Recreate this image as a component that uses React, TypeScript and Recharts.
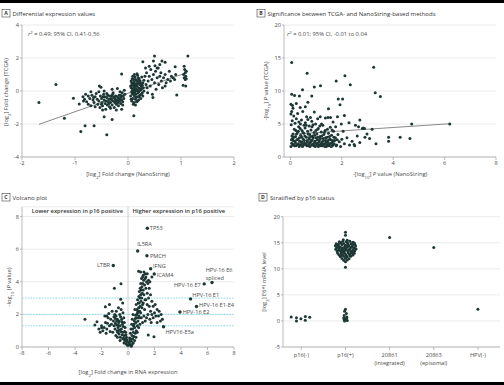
import React from 'react'
import { ScatterChart, Scatter, XAxis, YAxis, CartesianGrid, ReferenceLine } from 'recharts'

const FONT = '"Open Sans", "DejaVu Sans", sans-serif'
const INK = '#1d3735'
const LABEL = '#4a4a4a'
const AXIS = '#a9a9a9'
const GRID = '#e6e6e6'
const CUTOFF = '#7dd8e6'

// A - log2 fold change, NanoString (x) vs TCGA (y)
const foldChange: [number, number][] = [
  [-1.68, -0.7], [-1.36, 0.4], [-1.2, -1.65], [-1.03, -0.44], [-0.92, -0.79], [-0.81, -2.1], [-0.64, -2.1],
  [-0.89, -2.46], [-0.4, -2.65], [-0.3, -1.72], [-0.48, -1.15], [-0.45, -1.56], [0.11, -1.5], [-0.12, 1.03],
  [-0.54, 0.3], [-0.51, 0.22], [0.28, 1.78], [0.5, 2.12], [0.48, 1.82], [0.64, 1.82], [0.7, 1.75], [1.13, 2.12],
  [0.92, -0.24], [1.09, 0.3], [0.89, 1.47], [0.55, 1.4], [0.51, 1.53],
  [-0.85, -0.35], [-0.82, -0.5], [-0.8, -0.2], [-0.78, -0.65], [-0.75, -0.3], [-0.72, -0.45], [-0.7, -0.9],
  [-0.68, -0.25], [-0.66, -0.55], [-0.64, -0.7], [-0.62, -0.35], [-0.6, -0.15], [-0.58, -0.5], [-0.57, -0.8],
  [-0.55, -0.6], [-0.53, -1.0], [-0.52, -0.3], [-0.5, -0.45], [-0.49, -0.7], [-0.48, -0.9], [-0.46, -0.2],
  [-0.45, -0.55], [-0.44, -0.35], [-0.43, -0.75], [-0.42, -1.1], [-0.41, -0.6], [-0.4, -0.4], [-0.39, -0.85],
  [-0.38, -0.25], [-0.37, -0.65], [-0.36, -0.5], [-0.35, -0.95], [-0.34, -0.3], [-0.33, -0.7], [-0.32, -0.45],
  [-0.31, -0.55], [-0.3, -0.85], [-0.29, -0.2], [-0.28, -0.6], [-0.27, -0.4], [-0.26, -1.0], [-0.25, -0.7],
  [-0.24, -0.5], [-0.23, -0.3], [-0.22, -0.8], [-0.21, -0.55], [-0.2, -0.65], [-0.19, -0.4], [-0.18, -0.9],
  [-0.17, -0.25], [-0.16, -0.6], [-0.15, -0.45], [-0.14, -0.75], [-0.13, -0.35], [-0.12, -0.55], [-0.11, -0.1],
  [-0.1, -0.65], [-0.09, -0.3], [-0.08, -0.45], [-0.07, 0.05], [-0.06, -0.2], [-0.12, -1.1], [-0.22, -1.15],
  [-0.33, -1.05], [-0.55, -0.05], [-0.62, -0.95], [-0.3, 0.1], [-0.45, 0.0], [-0.2, 0.15], [-0.15, -0.05],
  [-0.75, -0.8], [-0.7, -0.05], [-0.4, -0.15], [-0.28, -0.1], [-0.36, -0.75], [-0.26, -0.35], [-0.19, -0.7],
  [-0.14, -0.25], [-0.1, -0.85], [-0.17, -0.5], [-0.23, -0.6], [-0.31, -0.3], [-0.47, -0.35], [-0.5, -0.8],
  [-0.65, -0.4], [-0.84, -0.6],
  [0.05, -0.3], [0.06, 0.2], [0.07, -0.6], [0.07, 0.5], [0.08, 0.0], [0.08, -0.15], [0.09, 0.35], [0.09, -0.45],
  [0.1, 0.1], [0.1, 0.7], [0.1, -0.8], [0.11, -0.05], [0.11, 0.25], [0.12, 0.55], [0.12, -0.3], [0.13, 0.0],
  [0.13, 0.85], [0.14, -0.5], [0.14, 0.4], [0.15, 0.15], [0.15, -0.2], [0.16, 0.65], [0.16, -0.65], [0.17, 0.3],
  [0.17, 0.05], [0.18, -0.35], [0.18, 0.95], [0.19, 0.5], [0.19, -0.1], [0.2, 0.2], [0.2, -0.55], [0.21, 0.75],
  [0.21, 0.0], [0.22, 0.4], [0.22, -0.25], [0.23, 0.6], [0.24, 0.1], [0.24, -0.45], [0.25, 0.3], [0.26, 0.85],
  [0.27, -0.1], [0.28, 0.5], [0.29, 0.2], [0.3, 0.65], [0.06, 0.6], [0.07, -0.05], [0.09, 0.9], [0.11, -0.7],
  [0.12, 0.15], [0.14, 0.7], [0.15, -0.4], [0.17, 0.45], [0.18, -0.6], [0.2, 0.55], [0.21, -0.35], [0.23, 0.05],
  [0.25, -0.2], [0.08, 0.4], [0.1, -0.2], [0.13, 0.3], [0.16, 0.05], [0.19, 0.8], [0.22, 0.15], [0.12, 1.0],
  [0.08, 0.75], [0.14, -0.85], [0.05, 0.3], [0.06, -0.5], [0.09, 0.1], [0.11, 0.45], [0.13, -0.1], [0.16, 0.35],
  [0.18, 0.6], [0.2, -0.05], [0.24, 0.45], [0.26, 0.15], [0.28, -0.3], [0.3, 0.0], [0.27, 0.35], [0.17, 1.05],
  [0.32, 0.9], [0.34, 0.4], [0.35, 1.1], [0.36, 0.2], [0.38, 0.6], [0.4, 0.9], [0.42, 0.3], [0.43, 1.3],
  [0.45, 0.7], [0.46, -0.2], [0.48, 1.0], [0.5, 0.5], [0.52, 1.2], [0.53, 0.1], [0.55, 0.8], [0.57, 1.4],
  [0.58, 0.4], [0.6, 0.9], [0.62, 1.1], [0.63, 0.6], [0.65, 0.2], [0.67, 0.8], [0.7, 1.0], [0.72, 0.5],
  [0.75, 0.7], [0.78, 1.2], [0.8, 0.6], [0.82, 0.9], [0.85, 0.8], [0.88, 0.7], [0.9, 1.0], [1.05, 1.0],
  [1.06, 0.8], [1.07, 1.3], [1.08, 0.7], [1.08, 1.1], [1.09, 0.9], [1.1, 0.75], [1.1, 1.2], [1.06, 1.5],
  [1.04, 0.35], [0.4, 1.5], [0.47, -0.4], [0.37, -0.1], [0.33, 1.4], [0.6, 1.6], [0.7, 0.3],
]
const foldChangeFit: [number, number][] = [[-1.68, -2.02], [1.1, 1.1]]

// B - -log10 P value, NanoString (x) vs TCGA (y)
const significance: [number, number][] = [
  [0.02, 1.6], [0.05, 2.1], [0.08, 2.8], [0.1, 3.5], [0.12, 1.9], [0.15, 4.2], [0.17, 2.4], [0.2, 3.1],
  [0.22, 1.7], [0.25, 2.6], [0.27, 3.8], [0.3, 2.0], [0.32, 4.6], [0.35, 2.9], [0.37, 1.8], [0.4, 3.3],
  [0.42, 2.3], [0.45, 4.0], [0.47, 1.6], [0.5, 2.7], [0.52, 3.6], [0.55, 2.1], [0.57, 4.4], [0.6, 1.9],
  [0.62, 3.0], [0.65, 2.5], [0.67, 3.9], [0.7, 1.7], [0.72, 2.9], [0.75, 3.4], [0.77, 2.2], [0.8, 4.1],
  [0.82, 1.8], [0.85, 2.6], [0.87, 3.2], [0.9, 2.0], [0.92, 3.7], [0.95, 2.4], [0.97, 1.6], [1.0, 2.9],
  [1.03, 3.5], [1.05, 2.1], [1.08, 4.3], [1.1, 1.8], [1.13, 2.6], [1.15, 3.1], [1.18, 2.0], [1.2, 3.8],
  [1.23, 2.3], [1.25, 1.7], [1.28, 2.8], [1.3, 3.4], [1.33, 2.0], [1.35, 4.0], [1.38, 2.5], [1.4, 1.6],
  [1.43, 3.0], [1.45, 2.2], [1.48, 3.6], [1.5, 1.9], [1.53, 2.7], [1.55, 4.5], [1.58, 2.1], [1.6, 3.3],
  [1.63, 1.7], [1.65, 2.5], [1.68, 3.9], [1.7, 2.0], [1.75, 2.9], [1.8, 1.8], [1.85, 3.4], [1.9, 2.3],
  [1.95, 1.6], [2.0, 2.7], [2.05, 3.9], [2.1, 2.0], [2.2, 2.9], [2.3, 1.8], [2.4, 2.4], [2.5, 1.7],
  [2.6, 3.2], [2.7, 2.2], [2.8, 4.3], [2.9, 3.0],
  [0.03, 4.9], [0.06, 3.2], [0.09, 1.8], [0.11, 2.5], [0.14, 3.0], [0.16, 1.7], [0.19, 2.2], [0.21, 4.0],
  [0.24, 3.5], [0.26, 1.9], [0.29, 2.7], [0.31, 3.9], [0.34, 1.6], [0.36, 2.4], [0.39, 5.0], [0.41, 1.9],
  [0.44, 3.0], [0.46, 2.2], [0.49, 3.7], [0.51, 1.8], [0.54, 2.5], [0.56, 3.2], [0.59, 2.0], [0.61, 4.8],
  [0.64, 1.7], [0.66, 2.3], [0.69, 3.5], [0.71, 2.0], [0.74, 2.7], [0.76, 1.6], [0.79, 3.1], [0.81, 2.4],
  [0.84, 4.6], [0.86, 1.9], [0.89, 2.9], [0.91, 1.7], [0.94, 3.3], [0.96, 2.2], [0.99, 4.0], [1.02, 1.9],
  [1.04, 2.6], [1.07, 3.0], [1.09, 1.6], [1.12, 2.3], [1.14, 4.7], [1.17, 2.8], [1.19, 1.7], [1.22, 3.2],
  [1.24, 2.1], [1.27, 1.8], [1.29, 2.5], [1.32, 3.7], [1.34, 1.6], [1.37, 2.9], [1.39, 2.2], [1.42, 1.8],
  [1.44, 4.2], [1.47, 2.5], [1.49, 1.7], [1.52, 3.1], [1.54, 2.0], [1.57, 2.6], [1.59, 1.6], [1.62, 4.1],
  [1.64, 2.3], [1.67, 1.9], [1.69, 3.0], [1.72, 2.5], [1.78, 1.7], [1.82, 2.6],
  [0.04, 2.6], [0.07, 5.5], [0.13, 6.2], [0.18, 5.1], [0.23, 5.8], [0.28, 6.6], [0.33, 5.3], [0.38, 4.3],
  [0.43, 5.6], [0.48, 6.9], [0.53, 4.8], [0.58, 5.2], [0.63, 6.1], [0.68, 5.7], [0.73, 4.7], [0.78, 6.0],
  [0.83, 5.4], [0.88, 4.9], [0.93, 6.8], [0.98, 5.0], [1.06, 5.8], [1.16, 6.1], [1.26, 4.8], [1.36, 5.9],
  [1.46, 6.0], [1.56, 6.0], [1.66, 5.3], [1.76, 4.6], [1.06, 4.2], [1.21, 5.0], [0.02, 6.5], [0.05, 6.9],
  [0.08, 7.8], [0.1, 7.4], [0.02, 8.0],
  [0.05, 14.3], [0.65, 12.7], [1.78, 11.5], [2.12, 12.3], [3.24, 13.6], [1.17, 10.8], [0.93, 10.6],
  [0.47, 10.2], [2.33, 10.95], [3.3, 9.75], [3.5, 9.15], [0.05, 9.5], [0.16, 9.3], [0.35, 9.25], [0.83, 9.25],
  [0.68, 8.3], [0.58, 7.6], [0.38, 7.5], [0.23, 8.1], [1.86, 8.8], [2.03, 8.8], [1.93, 7.9], [2.1, 6.3],
  [2.7, 5.6], [2.65, 4.6], [2.83, 4.4], [3.33, 2.0], [3.82, 3.0], [3.82, 2.4], [4.27, 3.0], [4.65, 2.8],
  [4.72, 5.0], [6.2, 5.0], [2.98, 3.5], [3.08, 2.8], [1.98, 5.0], [2.28, 5.2], [2.48, 1.9], [3.18, 4.2],
  [2.88, 4.3], [2.53, 4.8], [1.83, 6.1], [1.48, 7.3],
]
const significanceFit: [number, number][] = [[0.05, 3.45], [6.25, 5.05]]

// C - volcano, log2 fold change (x) vs -log10 P value (y)
const volcano: [number, number][] = [
  [-0.05, 0.1], [-0.1, 0.3], [-0.15, 0.2], [-0.2, 0.5], [-0.25, 0.4], [-0.3, 0.7], [-0.35, 0.55], [-0.4, 0.9],
  [-0.45, 0.75], [-0.5, 1.1], [-0.55, 0.95], [-0.6, 1.3], [-0.65, 1.05], [-0.7, 1.5], [-0.75, 1.2], [-0.8, 1.7],
  [-0.85, 1.35], [-0.9, 1.9], [-0.95, 1.45], [-1.0, 2.0], [-1.1, 1.6], [-1.2, 2.2], [-1.3, 1.7], [-1.4, 1.3],
  [-1.5, 1.8], [-1.6, 1.1], [-1.7, 1.5], [-1.8, 1.2], [-1.9, 1.0], [-2.1, 0.9], [-0.12, 0.6], [-0.18, 0.9],
  [-0.22, 1.2], [-0.28, 1.5], [-0.32, 1.8], [-0.38, 2.1], [-0.42, 1.4], [-0.48, 1.7], [-0.52, 2.3], [-0.58, 0.6],
  [-0.62, 2.0], [-0.68, 0.8], [-0.72, 2.4], [-0.78, 0.9], [-0.82, 1.0], [-0.88, 2.2], [-0.92, 0.7], [-0.98, 1.1],
  [-1.05, 1.3], [-1.15, 0.9], [-1.25, 1.4], [-1.35, 0.95], [-1.45, 2.05], [-1.55, 1.45], [-1.65, 0.85],
  [-1.75, 1.9], [-2.0, 1.3], [-0.08, 0.45], [-0.16, 0.75], [-0.26, 0.95], [-0.36, 1.25], [-0.46, 1.55],
  [-0.56, 1.85], [-0.66, 1.6], [-0.76, 1.35], [-0.86, 1.6], [-0.96, 1.75], [-1.06, 1.85], [-0.3, 0.25],
  [-0.4, 0.5], [-0.6, 0.4], [-0.8, 0.6],
  [-3.25, 1.7], [-2.34, 1.55], [-1.99, 1.18], [-1.6, 1.9], [-1.71, 2.47], [-0.55, 2.93], [-1.03, 3.6],
  [-0.53, 3.88], [-2.5, 1.35], [-2.2, 1.1], [-1.4, 2.6], [-0.4, 2.7],
  [0.05, 0.1], [0.1, 0.3], [0.15, 0.15], [0.2, 0.5], [0.25, 0.35], [0.3, 0.7], [0.35, 0.5], [0.4, 0.9],
  [0.45, 0.65], [0.5, 1.2], [0.55, 0.85], [0.6, 1.5], [0.62, 1.0], [0.65, 1.8], [0.7, 1.3], [0.72, 2.1],
  [0.75, 1.6], [0.8, 2.4], [0.82, 1.9], [0.85, 2.7], [0.88, 2.2], [0.9, 3.0], [0.93, 2.5], [0.95, 3.2],
  [0.98, 2.8], [1.0, 3.5], [1.03, 3.0], [1.05, 3.7], [1.08, 3.3], [1.1, 2.6], [1.12, 3.9], [1.15, 3.5],
  [1.18, 4.1], [1.2, 3.2], [1.25, 3.8], [1.28, 2.9], [1.3, 4.2], [1.35, 3.6], [1.4, 4.0], [1.45, 3.3],
  [1.5, 3.9], [1.55, 4.1], [0.12, 0.55], [0.18, 0.85], [0.22, 1.1], [0.28, 1.4], [0.32, 1.7], [0.38, 2.0],
  [0.42, 1.3], [0.48, 1.6], [0.52, 2.3], [0.58, 1.95], [0.62, 2.6], [0.68, 2.3], [0.72, 2.9], [0.78, 2.7],
  [0.82, 3.1], [0.86, 3.4], [0.92, 3.6], [0.96, 3.9], [1.02, 4.2], [0.35, 1.1], [0.45, 1.4], [0.55, 1.75],
  [0.65, 2.0], [0.75, 2.2], [0.85, 1.8], [0.95, 2.1], [1.05, 2.4], [1.15, 2.7], [1.25, 2.3], [1.35, 2.9],
  [1.45, 2.6], [1.55, 3.0], [1.6, 2.5], [1.7, 2.2], [1.8, 2.0], [1.9, 1.8], [2.0, 2.1], [2.1, 1.9],
  [2.2, 1.5], [2.3, 1.9], [1.65, 1.7], [1.75, 1.5], [1.5, 2.0], [1.4, 1.8], [1.3, 1.6], [1.2, 1.9],
  [1.1, 1.5], [1.0, 1.8], [0.9, 1.4], [0.8, 1.2], [0.7, 0.9], [0.6, 0.6], [0.5, 0.4], [0.4, 0.25],
  [0.3, 0.15], [0.25, 0.05], [0.15, 0.4], [0.08, 0.2], [1.15, 4.4], [1.3, 4.5], [1.2, 4.6], [1.1, 4.3],
  [0.95, 4.6], [1.35, 4.3], [1.45, 4.5], [1.6, 3.6], [1.7, 3.2], [1.65, 4.0], [1.8, 2.8], [1.9, 2.5],
  [2.05, 2.6], [2.2, 2.3], [2.35, 2.2], [2.5, 2.0], [2.45, 1.6], [2.6, 1.7], [1.96, 0.63], [1.53, 0.74],
  [0.8, 4.65], [1.8, 4.3],
]
const volcanoNames = [
  'TP53', 'IL5RA', 'PMCH', 'LTBR', 'IFNG', 'ICAM4', 'HPV-16 E6\nspliced',
  'HPV-16 E7', 'HPV-16 E1', 'HPV-16 E1-E4', 'HPV-16 E2', 'HPV16-E5a',
]
const volcanoNamedValues: [number, number][] = [
  [1.46, 7.28], [0.73, 5.89], [1.43, 5.6], [-1.11, 5.0], [1.71, 4.8], [1.98, 4.48], [6.34, 3.96],
  [5.75, 3.87], [4.72, 2.95], [5.17, 2.48], [3.92, 2.15], [2.68, 1.24],
]
const pCutoffs = [3, 2, 1.3]

// D - E6*I mRNA level by p16 status; [jitter, value] per group
const statusNames = ['p16(-)', 'p16(+)', '20861', '20863', 'HPV(-)']
const statusNotes = ['', '', '(integrated)', '(episomal)', '']
const p16Negative: [number, number][] = [
  [-0.23, 0.77], [-0.11, 0.63], [-0.11, 0.0], [-0.01, 0.44], [0.09, 0.83], [0.09, 0.13], [0.19, 0.71],
]
const p16Positive: [number, number][] = [
  [-0.05, 15.6], [0.04, 15.5], [-0.14, 15.2], [-0.06, 15.3], [0.02, 15.2], [0.1, 15.3], [0.17, 15.1],
  [-0.21, 14.8], [-0.13, 14.9], [-0.04, 14.85], [0.05, 14.9], [0.13, 14.8], [0.21, 14.7],
  [-0.23, 14.45], [-0.16, 14.5], [-0.08, 14.55], [0.0, 14.5], [0.08, 14.45], [0.16, 14.55], [0.23, 14.4],
  [-0.2, 14.1], [-0.12, 14.15], [-0.04, 14.05], [0.04, 14.15], [0.12, 14.1], [0.2, 14.05],
  [-0.22, 13.75], [-0.15, 13.8], [-0.07, 13.7], [0.01, 13.8], [0.09, 13.75], [0.17, 13.7], [0.24, 13.8],
  [-0.19, 13.4], [-0.11, 13.45], [-0.03, 13.4], [0.05, 13.45], [0.13, 13.35], [0.21, 13.45],
  [-0.18, 13.05], [-0.1, 13.1], [-0.02, 13.0], [0.06, 13.1], [0.14, 13.05], [0.2, 13.0],
  [-0.15, 12.7], [-0.07, 12.75], [0.01, 12.7], [0.09, 12.75], [0.17, 12.65],
  [-0.12, 12.35], [-0.04, 12.4], [0.04, 12.35], [0.12, 12.4],
  [-0.08, 12.0], [0.0, 12.05], [0.08, 11.95], [-0.04, 11.65], [0.04, 11.7], [0.0, 11.35],
  [-0.1, 15.0], [0.06, 14.6], [-0.17, 14.25], [0.15, 14.25], [-0.08, 13.95], [0.08, 13.55], [-0.14, 13.55],
  [0.18, 13.25], [-0.06, 13.25], [0.1, 12.9], [-0.1, 12.55], [0.02, 12.2], [-0.19, 14.65], [0.2, 14.95],
  [-0.01, 14.25], [0.0, 13.6], [0.11, 12.5],
  [0.0, 17.0], [0.0, 16.45], [0.0, 10.3],
  [0.0, 2.25], [-0.02, 1.85], [0.02, 1.45], [-0.03, 1.05], [0.03, 0.75], [-0.04, 0.55], [0.01, 0.35],
  [0.04, 0.1], [-0.02, 0.0], [0.03, 0.6], [-0.03, 0.25],
]
const line20861: [number, number][] = [[0, 16.0]]
const line20863: [number, number][] = [[0, 14.1]]
const hpvNegative: [number, number][] = [[0, 2.25]]

const toPoints = (rows: [number, number][]) => rows.map(([x, y]) => ({ x, y }))
const statusPoints = [p16Negative, p16Positive, line20861, line20863, hpvNegative].flatMap((group, i) =>
  group.map(([jitter, y]) => ({ x: i + jitter, y }))
)
const namedPoints = volcanoNamedValues.map(([x, y], i) => ({ x, y, name: volcanoNames[i] }))

// where each gene label sits relative to its dot
const labelPlace: Record<string, { dx: number; dy: number; anchor: 'start' | 'end' }> = {
  TP53: { dx: 2.5, dy: 2, anchor: 'start' },
  IL5RA: { dx: -0.5, dy: -4.8, anchor: 'start' },
  PMCH: { dx: 3, dy: 2, anchor: 'start' },
  LTBR: { dx: -3.3, dy: 2, anchor: 'end' },
  IFNG: { dx: 2.4, dy: -0.8, anchor: 'start' },
  ICAM4: { dx: 2.4, dy: 3.2, anchor: 'start' },
  'HPV-16 E6\nspliced': { dx: -6.3, dy: -10.3, anchor: 'start' },
  'HPV-16 E7': { dx: -3.5, dy: 3.5, anchor: 'end' },
  'HPV-16 E1': { dx: 1.8, dy: -1.5, anchor: 'start' },
  'HPV-16 E1-E4': { dx: 2.6, dy: 0.8, anchor: 'start' },
  'HPV-16 E2': { dx: 2.7, dy: 2, anchor: 'start' },
  'HPV16-E5a': { dx: 2, dy: 7.5, anchor: 'start' },
}

const tick = { fontSize: 5.6, fill: LABEL, fontFamily: FONT }
const axisProps = {
  axisLine: { stroke: AXIS, strokeWidth: 0.8 },
  tickLine: { stroke: AXIS, strokeWidth: 0.8 },
  tick,
  interval: 0 as const,
}

const Dot = (p: any) => <circle cx={p.cx} cy={p.cy} r={1.5} fill={INK} />

const NamedDot = (p: any) => {
  const name: string = p.payload.name
  const place = labelPlace[name]
  const lines = name.split('\n')
  const tx = p.cx + place.dx
  return (
    <g>
      <circle cx={p.cx} cy={p.cy} r={1.7} fill={INK} />
      <text x={tx} y={p.cy + place.dy} textAnchor={place.anchor} fontSize={5.6} fill={LABEL} fontFamily={FONT}>
        {lines.map((l, i) => (
          <tspan key={i} x={tx} dy={i === 0 ? 0 : 7.5}>{l}</tspan>
        ))}
      </text>
    </g>
  )
}

const StatusTick = ({ x, y, payload }: any) => {
  const i = payload.value
  return (
    <text x={x} y={y} textAnchor="middle" fontSize={5.6} fill={LABEL} fontFamily={FONT}>
      <tspan x={x} dy={5.5}>{statusNames[i]}</tspan>
      {statusNotes[i] ? <tspan x={x} dy={8.2}>{statusNotes[i]}</tspan> : null}
    </text>
  )
}

const Tag = ({ x, y, letter }: { x: number; y: number; letter: string }) => (
  <g>
    <rect x={x} y={y} width={8} height={7.5} fill="#fff" stroke="#444" strokeWidth={0.6} />
    <text x={x + 4} y={y + 5.6} textAnchor="middle" fontSize={5.2} fontWeight={700} fill="#333">{letter}</text>
  </g>
)

const Sub = ({ children }: { children: string }) => (
  <tspan baselineShift="sub" fontSize={4.2}>{children}</tspan>
)

const abs = (left: number, top: number): React.CSSProperties => ({ position: 'absolute', left, top })

export default function App() {
  return (
    <div style={{ position: 'absolute', left: 0, top: 0, width: 504, height: 385, background: '#fff', overflow: 'hidden' }}>
      <div style={abs(0, 0)}>
        <ScatterChart width={252} height={190} margin={{ top: 25, right: 18, bottom: 0, left: 0 }}>
          <CartesianGrid vertical={false} stroke={GRID} strokeWidth={0.8} />
          <XAxis type="number" dataKey="x" domain={[-2, 2]} ticks={[-2, -1, 0, 1, 2]} height={33} tickSize={3} tickMargin={1} {...axisProps} />
          <YAxis type="number" dataKey="y" domain={[-4, 4]} ticks={[-4, -2, 0, 2, 4]} width={22} tickSize={2} tickMargin={1} {...axisProps} />
          <Scatter data={toPoints(foldChange)} shape={Dot} isAnimationActive={false} />
          <ReferenceLine segment={[{ x: foldChangeFit[0][0], y: foldChangeFit[0][1] }, { x: foldChangeFit[1][0], y: foldChangeFit[1][1] }]} stroke="#7a7a7a" strokeWidth={0.9} />
        </ScatterChart>
      </div>

      <div style={abs(252, 0)}>
        <ScatterChart width={252} height={190} margin={{ top: 25, right: 8, bottom: 0, left: 0 }}>
          <CartesianGrid vertical={false} stroke={GRID} strokeWidth={0.8} />
          <XAxis type="number" dataKey="x" domain={[-0.25, 8]} ticks={[0, 2, 4, 6, 8]} height={33} tickSize={3} tickMargin={1} {...axisProps} />
          <YAxis type="number" dataKey="y" domain={[0, 20]} ticks={[0, 5, 10, 15, 20]} width={32} tickSize={2} tickMargin={1} {...axisProps} />
          <Scatter data={toPoints(significance)} shape={Dot} isAnimationActive={false} />
          <ReferenceLine segment={[{ x: significanceFit[0][0], y: significanceFit[0][1] }, { x: significanceFit[1][0], y: significanceFit[1][1] }]} stroke="#7a7a7a" strokeWidth={0.9} />
        </ScatterChart>
      </div>

      <div style={abs(0, 190)}>
        <ScatterChart width={252} height={195} margin={{ top: 16.8, right: 18, bottom: 0, left: 0 }}>
          <CartesianGrid vertical={false} stroke={GRID} strokeWidth={0.8} />
          <XAxis type="number" dataKey="x" domain={[-8, 8]} ticks={[-8, -6, -4, -2, 0, 2, 4, 6, 8]} height={38} tickSize={3} tickMargin={1} {...axisProps} />
          <YAxis type="number" dataKey="y" domain={[0, 8.6]} ticks={[0, 2, 4, 6, 8]} width={22} tickSize={2} tickMargin={1} {...axisProps} />
          <ReferenceLine x={0} stroke="#c4c4c4" strokeWidth={0.8} />
          {pCutoffs.map((c) => (
            <ReferenceLine key={c} y={c} stroke={CUTOFF} strokeWidth={0.9} strokeDasharray="1.6 1.2" />
          ))}
          <Scatter data={toPoints(volcano)} shape={Dot} isAnimationActive={false} />
          <Scatter data={namedPoints} shape={NamedDot} isAnimationActive={false} />
        </ScatterChart>
      </div>

      <div style={abs(252, 190)}>
        <ScatterChart width={252} height={195} margin={{ top: 26.7, right: 4, bottom: 0, left: 0 }}>
          <CartesianGrid vertical={false} stroke={GRID} strokeWidth={0.8} />
          <XAxis type="number" dataKey="x" domain={[-0.415, 4.5]} ticks={[0, 1, 2, 3, 4]} height={38} tickSize={3} tickMargin={1} {...axisProps} tick={<StatusTick />} />
          <YAxis type="number" dataKey="y" domain={[-5, 20]} ticks={[-5, 0, 5, 10, 15, 20]} width={31} tickSize={2} tickMargin={1} {...axisProps} />
          <Scatter data={statusPoints} shape={Dot} isAnimationActive={false} />
        </ScatterChart>
      </div>

      <svg width={504} height={385} style={{ position: 'absolute', left: 0, top: 0, pointerEvents: 'none' }} fontFamily={FONT} fill={LABEL} fontSize={5.8}>
        <Tag x={2} y={9.5} letter="A" />
        <text x={12.5} y={15.6} fill="#333" fontSize={6}>Differential expression values</text>
        <text x={28} y={36}>
          <tspan fontStyle="italic">r</tspan><tspan baselineShift="super" fontSize={4.2}>2</tspan> = 0.49; 95% CI, 0.41-0.56
        </text>
        <text transform="translate(7.5,92) rotate(-90)" textAnchor="middle">
          [log<Sub>2</Sub>] Fold change (TCGA)
        </text>
        <text x={128} y={175.5} textAnchor="middle">
          [log<Sub>2</Sub>] Fold change (NanoString)
        </text>

        <Tag x={257} y={9.5} letter="B" />
        <text x={267.5} y={15.6} fill="#333" fontSize={6}>Significance between TCGA- and NanoString-based methods</text>
        <text x={287} y={36}>
          <tspan fontStyle="italic">r</tspan><tspan baselineShift="super" fontSize={4.2}>2</tspan> = 0.01; 95% CI, -0.01 to 0.04
        </text>
        <text transform="translate(268,91) rotate(-90)" textAnchor="middle">
          -[log<Sub>10</Sub>] <tspan fontStyle="italic">P</tspan> value (TCGA)
        </text>
        <text x={390} y={175.5} textAnchor="middle">
          -[log<Sub>10</Sub>] <tspan fontStyle="italic">P</tspan> value (NanoString)
        </text>

        <Tag x={2} y={193.5} letter="C" />
        <text x={12.5} y={199.6} fill="#333" fontSize={6}>Volcano plot</text>
        <text x={123} y={212.5} textAnchor="end" fontWeight={600} fill="#333">Lower expression in p16 positive</text>
        <text x={132.5} y={212.5} fontWeight={600} fill="#333">Higher expression in p16 positive</text>
        <text transform="translate(11,287) rotate(-90)" textAnchor="middle">
          -log<Sub>10</Sub> (<tspan fontStyle="italic">P</tspan> value)
        </text>
        <text x={128} y={373.5} textAnchor="middle">
          [log<Sub>2</Sub>] Fold change in RNA expression
        </text>

        <Tag x={259} y={193.5} letter="D" />
        <text x={270} y={199.6} fill="#333" fontSize={6}>Stratified by p16 status</text>
        <text transform="translate(266,282) rotate(-90)" textAnchor="middle">
          [log<Sub>2</Sub>] E6*I mRNA level
        </text>
      </svg>

      <div style={{ position: 'absolute', left: 0, top: 0, width: 504, height: 3, background: '#000' }} />
      <div style={{ position: 'absolute', left: 0, top: 382, width: 504, height: 3, background: '#000' }} />
    </div>
  )
}
